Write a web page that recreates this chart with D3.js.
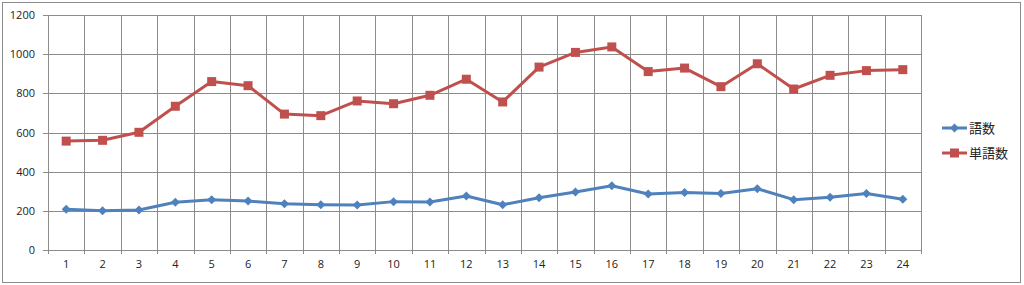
<!DOCTYPE html>
<html>
<head>
<meta charset="utf-8">
<script src="https://d3js.org/d3.v7.min.js"></script>
<style>
	body { margin: 0; background: #fff; }
	svg { display: block; }
	.tick text { font-family: "Open Sans", "Liberation Sans", sans-serif; font-size: 11px; fill: #222; }
	.legend text { font-family: "Noto Sans CJK JP", sans-serif; font-size: 13px; fill: #222; }
</style>
</head>
<body>
<div id="chart"></div>
<script>
// Data
const categories = d3.range(1, 25).map(String);
const goSu = [208, 201, 204, 244, 257, 250, 236, 231, 230, 247, 245, 276, 231, 267, 296, 328, 286, 293, 289, 313, 257, 269, 289, 259];
const tanGoSu = [556, 560, 601, 734, 860, 839, 694, 686, 761, 747, 790, 872, 756, 934, 1009, 1037, 911, 929, 834, 951, 822, 892, 916, 921];
const yTicks = [0, 200, 400, 600, 800, 1000, 1200];
const seriesNames = ['語数', '単語数'];

const width = 1024, height = 285;
const plot = { left: 48, right: 921, top: 15, bottom: 250 };

const svg = d3.select('#chart').append('svg')
	.attr('width', width)
	.attr('height', height);

// Outer frame
svg.append('rect')
	.attr('x', 2.5).attr('y', 2.5)
	.attr('width', 1018).attr('height', 280)
	.attr('fill', '#fff')
	.attr('stroke', '#8c8c8c');

const x = d3.scaleBand().domain(categories).range([plot.left, plot.right]);
const y = d3.scaleLinear().domain([0, 1200]).range([plot.bottom, plot.top]);

// Horizontal gridlines
svg.append('g')
	.selectAll('line')
	.data(yTicks)
	.join('line')
	.attr('x1', plot.left - 5).attr('x2', plot.right)
	.attr('y1', d => Math.round(y(d)) + 0.5).attr('y2', d => Math.round(y(d)) + 0.5)
	.attr('stroke', '#8c8c8c');

// Vertical gridlines at category boundaries
const bounds = categories.map(c => x(c)).concat([plot.right]);
svg.append('g')
	.selectAll('line')
	.data(bounds)
	.join('line')
	.attr('x1', d => Math.round(d) + 0.5).attr('x2', d => Math.round(d) + 0.5)
	.attr('y1', plot.top).attr('y2', plot.bottom + 4)
	.attr('stroke', '#8c8c8c');

// Y axis labels
const yAxis = svg.append('g')
	.attr('transform', `translate(${plot.left},0)`)
	.call(d3.axisLeft(y).tickValues(yTicks).tickFormat(d3.format('d')).tickSize(0).tickPadding(13));
yAxis.select('.domain').remove();

// X axis labels
const xAxis = svg.append('g')
	.attr('transform', `translate(0,${plot.bottom})`)
	.call(d3.axisBottom(x).tickSize(0).tickPadding(10));
xAxis.select('.domain').remove();

// Lines and markers
const line = d3.line()
	.x((d, i) => x(categories[i]) + x.bandwidth() / 2)
	.y(d => y(d));

const series = [
	{ name: seriesNames[0], values: goSu, color: '#4f81bd', marker: 'diamond' },
	{ name: seriesNames[1], values: tanGoSu, color: '#c0504d', marker: 'square' }
];

const drawMarker = function(g, type, color) {
	if (type === 'square') {
		g.append('rect')
			.attr('x', -4.5).attr('y', -4.5)
			.attr('width', 9).attr('height', 9)
			.attr('fill', color);
	}
	else {
		g.append('path')
			.attr('d', 'M0,-4.5L4.5,0L0,4.5L-4.5,0Z')
			.attr('fill', color);
	}
};

series.forEach(s => {
	svg.append('path')
		.datum(s.values)
		.attr('d', line)
		.attr('fill', 'none')
		.attr('stroke', s.color)
		.attr('stroke-width', 3)
		.attr('stroke-linejoin', 'round');

	svg.append('g')
		.selectAll('g')
		.data(s.values)
		.join('g')
		.attr('transform', (d, i) => `translate(${x(categories[i]) + x.bandwidth() / 2},${y(d)})`)
		.each(function() { drawMarker(d3.select(this), s.marker, s.color); });
});

// Legend
const legend = svg.append('g').attr('class', 'legend');
series.forEach((s, i) => {
	const ly = 128 + i * 25;
	legend.append('line')
		.attr('x1', 942).attr('x2', 967)
		.attr('y1', ly).attr('y2', ly)
		.attr('stroke', s.color)
		.attr('stroke-width', 3);
	const m = legend.append('g').attr('transform', `translate(954.5,${ly})`);
	drawMarker(m, s.marker, s.color);
	legend.append('text')
		.attr('x', 969).attr('y', ly)
		.attr('dy', '0.35em')
		.text(s.name);
});
</script>
</body>
</html>
